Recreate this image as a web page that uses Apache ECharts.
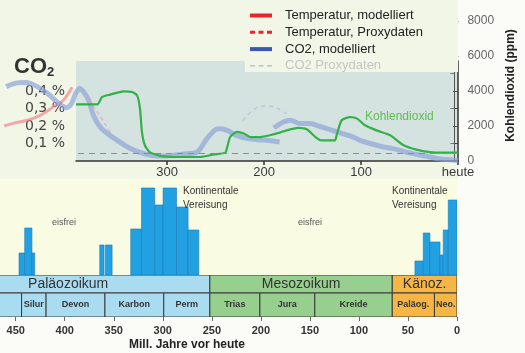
<!DOCTYPE html>
<html><head><meta charset="utf-8">
<script src="https://cdn.jsdelivr.net/npm/echarts@6/dist/echarts.min.js"></script>
<style>html,body{margin:0;padding:0;background:#fbfbf7}#c{width:525px;height:353px}</style>
</head><body><div id="c"></div>
<script>
// ---- Top panel: CO2 (ppm) over million years before present ----
const kohlendioxid = [[394,3240],[372,3240],[367,3660],[359,3790],[345,3980],[336,3940],[331,3750],[328,3000],[326,1660],[323,900],[318,510],[307,290],[290,230],[266,230],[252,370],[240,480],[238,800],[235,1370],[228,1660],[221,1570],[214,1370],[204,1370],[194,1470],[184,1620],[180,1700],[165,1890],[156,1810],[147,1370],[141,1180],[127,1180],[125,1510],[120,2330],[111,2510],[104,2420],[96,2040],[84,1750],[70,1470],[56,900],[43,650],[29,510],[15,480],[0,480]];
const co2ModelA = [[466,4250],[456,4450],[446,4480],[434,4250],[422,3800],[412,3300],[404,3050],[399,3250],[394,3900],[390,4150],[386,3940],[381,3470],[376,2610],[369,1940],[359,1470],[348,1050],[338,710],[324,420],[311,290],[295,320],[280,420],[269,510],[259,1280],[250,1800],[245,1850],[238,1750],[228,1450],[214,1250],[200,1200],[184,1090]];
const co2ModelB = [[190,1900],[180,2230],[173,2330],[163,2140],[153,2140],[146,2040],[135,1850],[125,1660],[108,1370],[101,1180],[84,900],[77,800],[67,710],[49,450],[32,270],[22,140],[15,100],[0,30]];
const co2Proxy = [[222,2300],[214,2800],[205,3100],[195,3150],[186,3000],[177,2700]];
const tempModel = [[468,2000],[459,2150],[444,2330],[431,2610],[418,3070],[407,3470],[398,4210]];
const tempProxy = [[381,3500],[372,2800],[364,2100],[357,1500]];
const todayLevel = [420];
const topTicks = [0,100,200,300];
const percentTicks = [1000,2000,3000,4000];
const ppmTicks = [0,2000,4000,6000,8000];

// ---- Bottom panel: glaciation extent, eras and periods ----
const iceStart  = [446.6,440.8,433.4,364.3,358.5,332.7,321.7,308.2,299.7,286.0,274.2,42.9,34.4,27.6,17.3,14.0,8.9];
const iceEnd    = [440.8,433.4,430.6,359.9,351.7,321.7,308.2,299.7,286.0,274.2,263.3,34.4,27.6,17.3,14.0,8.9,0];
const iceExtent = [22,47,22,30,30,46,87,70,87,68,45,14,42,33,20,45,75];
const eraNames = ['Paläozoikum','Mesozoikum','Känoz.'];
const eraStart = [541,252,66];
const eraEnd   = [252,66,0];
const periodNames = ['','Silur','Devon','Karbon','Perm','Trias','Jura','Kreide','Paläog.','Neo.'];
const periodStart = [485,444,419,359,299,252,201,145,66,23];
const periodEnd   = [444,419,359,299,252,201,145,66,23,0];
const periodEra   = [0,0,0,0,0,1,1,1,2,2];

const FONT = '"Liberation Sans", Arial, sans-serif';
const eraColors = ['#a9dcf0','#96cf8e','#f6b545'];

const PX_PER_1000 = 17.5;
const mainMax = 100 / PX_PER_1000 * 1000;
const rightMax = 151 / PX_PER_1000 * 1000;
const TOP_MAX = 394;                 // left edge of the CO2 plot (Mill. Jahre)
const topScale = 382 / TOP_MAX;      // px per Mill. Jahre in the top panel
const wideMax = 458 / topScale;      // same scale extended to the left picture edge

const bands = [];
eraNames.forEach((n,i)=>bands.push({name:n, value:[eraStart[i], eraEnd[i], 1, i], era:i, big:true}));
periodNames.forEach((n,i)=>bands.push({name:n, value:[periodStart[i], periodEnd[i], 0, i], era:periodEra[i], big:false}));
const iceData = iceStart.map((s,i)=>[s, iceEnd[i], iceExtent[i]]);

const solidIcon = 'path://M0,0h22v4h-22z';
const dashIcon = 'path://M0,0h5v3h-5zM8.5,0h5v3h-5zM17,0h5v3h-5z';
const thinDashIcon = 'path://M0,0h5v1.4h-5zM8.5,0h5v1.4h-5zM17,0h5v1.4h-5z';

const chart = echarts.init(document.getElementById('c'), null, {renderer:'canvas'});
chart.setOption({
  backgroundColor:'#fbfbf7',
  animation:false,
  textStyle:{fontFamily:FONT},
  grid:[
    {left:76, right:67, top:61, bottom:192, show:true, backgroundColor:'#d4e3df', borderWidth:0},
    {left:76, right:67, top:10, bottom:192},
    {left:0, right:68, top:179, bottom:78, show:true, backgroundColor:'#fafbe3', borderWidth:0},
    {left:0, right:68, top:275, bottom:36},
    {left:0, right:67, top:61, bottom:192}
  ],
  legend:{
    orient:'vertical', left:245, top:0, padding:[9,0,0,5],
    itemWidth:22, itemHeight:14, itemGap:3.8,
    textStyle:{fontSize:13, color:'#222', fontFamily:FONT, padding:[0,0,0,8]},
    data:[
      {name:'Temperatur, modelliert', icon:solidIcon, itemStyle:{color:'#e8262a'}},
      {name:'Temperatur, Proxydaten', icon:dashIcon, itemStyle:{color:'#e8262a'}},
      {name:'CO2, modelliert', icon:solidIcon, itemStyle:{color:'#3b57b2'}},
      {name:'CO2 Proxydaten', icon:thinDashIcon, itemStyle:{color:'#aab6d8'}, textStyle:{color:'#c4c6c4'}}
    ]
  },
  xAxis:[
    {gridIndex:0, type:'value', min:0, max:TOP_MAX, inverse:true, interval:100,
     axisLine:{show:true, lineStyle:{color:'#333', width:1.5}},
     axisTick:{show:true, length:4, lineStyle:{color:'#333', width:1.5}, customValues:topTicks},
     axisLabel:{fontSize:13, color:'#3a3a3a', margin:5, customValues:topTicks, formatter:v=>v===0?'heute':String(v)},
     splitLine:{show:false}},
    {gridIndex:1, type:'value', min:0, max:TOP_MAX, inverse:true, show:false},
    {gridIndex:2, type:'value', min:0, max:466, inverse:true, show:false},
    {gridIndex:3, type:'value', min:0, max:466, inverse:true, interval:50,
     axisLine:{show:false},
     axisTick:{show:true, length:4, lineStyle:{color:'#666'}},
     axisLabel:{fontSize:11, fontWeight:'bold', color:'#333', margin:8, formatter:v=>String(v)},
     splitLine:{show:false}},
    {gridIndex:4, type:'value', min:0, max:wideMax, inverse:true, show:false}
  ],
  yAxis:[
    {gridIndex:0, type:'value', min:0, max:mainMax, position:'left',
     axisLine:{show:true, lineStyle:{color:'#333', width:1.5}},
     axisTick:{show:true, length:5, customValues:percentTicks, lineStyle:{color:'#444'}},
     axisLabel:{fontSize:14, color:'#444', margin:11, customValues:percentTicks, fontFamily:'"DejaVu Sans", sans-serif',
       formatter:v=>(v/10000).toFixed(1).replace('.',',')+' %'},
     splitLine:{show:false}},
    {gridIndex:1, type:'value', min:0, max:rightMax, position:'right',
     axisLine:{show:true, lineStyle:{color:'#555', width:1}},
     axisTick:{show:true, length:4, customValues:ppmTicks, lineStyle:{color:'#555'}},
     axisLabel:{fontSize:12, color:'#666', margin:13, customValues:ppmTicks, formatter:v=>String(v)},
     splitLine:{show:false},
     name:'Kohlendioxid (ppm)', nameLocation:'middle', nameRotate:90, nameGap:49,
     nameTextStyle:{fontSize:12, fontWeight:'bold', color:'#222'}},
    {gridIndex:1, type:'value', min:0, max:rightMax, position:'right',
     axisLine:{show:false},
     axisTick:{show:true, inside:true, length:4, customValues:[1000,3000,5000,7000], lineStyle:{color:'#777'}},
     axisLabel:{show:false}, splitLine:{show:false}},
    {gridIndex:2, type:'value', min:0, max:96, show:false},
    {gridIndex:3, type:'value', min:0, max:42, show:false},
    {gridIndex:4, type:'value', min:0, max:mainMax, show:false}
  ],
  series:[
    {name:'Temperatur, modelliert', type:'line', xAxisIndex:4, yAxisIndex:5, data:tempModel,
     symbol:'none', smooth:0.3, z:1, lineStyle:{color:'#ee7f86', width:3, opacity:0.65}},
    {name:'CO2, modelliert', type:'line', xAxisIndex:4, yAxisIndex:5, data:co2ModelA,
     symbol:'none', smooth:0.3, z:2, lineStyle:{color:'#8ea4d8', width:5, opacity:0.7}},
    {name:'CO2, modelliert', type:'line', xAxisIndex:4, yAxisIndex:5, data:co2ModelB,
     symbol:'none', smooth:0.3, z:2, lineStyle:{color:'#8ea4d8', width:5, opacity:0.7}},
    {name:'CO2 Proxydaten', type:'line', xAxisIndex:4, yAxisIndex:5, data:co2Proxy,
     symbol:'none', smooth:0.3, z:2, lineStyle:{color:'#b4bedc', width:1.5, type:[4,4], opacity:0.8}},
    {name:'Temperatur, Proxydaten', type:'line', xAxisIndex:4, yAxisIndex:5, data:tempProxy,
     symbol:'none', smooth:0.3, z:2, lineStyle:{color:'#f0a0a4', width:1.5, type:[4,3], opacity:0.7}},
    {name:'Kohlendioxid', type:'line', xAxisIndex:0, yAxisIndex:0, data:kohlendioxid,
     symbol:'none', smooth:0.2, z:3, lineStyle:{color:'#34b048', width:2.2},
     markLine:{silent:true, symbol:'none', label:{show:false},
       lineStyle:{color:'#4cba4c', type:[6,5], width:1},
       data:todayLevel.map(v=>({yAxis:v}))}},
    {name:'Vereisung', type:'custom', xAxisIndex:2, yAxisIndex:3, data:iceData, clip:true,
     renderItem:function(params, api){
       const p0 = api.coord([api.value(0), api.value(2)]);
       const p1 = api.coord([api.value(1), 0]);
       return {type:'rect', shape:{x:p0[0], y:p0[1], width:p1[0]-p0[0], height:p1[1]-p0[1]},
               style:{fill:'#22a1e2', stroke:'#1a78bb', lineWidth:0.6}};
     }},
    {name:'Zeitalter', type:'custom', xAxisIndex:3, yAxisIndex:4, data:bands, clip:true,
     renderItem:function(params, api){
       const b = bands[params.dataIndex];
       const row = api.value(2);
       const yLo = row === 1 ? 24 : 0, yHi = row === 1 ? 42 : 24;
       const p0 = api.coord([api.value(0), yHi]);
       const p1 = api.coord([api.value(1), yLo]);
       return {type:'group', children:[
         {type:'rect', shape:{x:p0[0], y:p0[1], width:p1[0]-p0[0], height:p1[1]-p0[1]},
          style:{fill:eraColors[b.era], stroke:'#3a3a3a', lineWidth:1}},
         {type:'text', x:(p0[0]+p1[0])/2, y:(p0[1]+p1[1])/2,
          style:{text:b.name, align:'center', verticalAlign:'middle',
                 font:(b.big?'normal 14px ':'bold 9px ')+FONT, fill:'#333'}}
       ]};
     }}
  ],
  graphic:[
    {type:'rect', z:-5, shape:{x:0, y:0, width:458, height:179}, style:{fill:'#f2f6e7'}},
    {type:'rect', z:1, shape:{x:245, y:0, width:213, height:72}, style:{fill:'#f2f6e7'}},
    {type:'text', z:5, x:14, y:54, style:{text:'{a|CO}{b|2}', rich:{a:{fontSize:22, fontWeight:'bold', fill:'#333', fontFamily:FONT}, b:{fontSize:13, fontWeight:'bold', fill:'#333', fontFamily:FONT, padding:[12,0,0,0]}}}},
    {type:'text', z:5, x:365, y:111, style:{text:'Kohlendioxid', font:'12px '+FONT, fill:'#5cc04c'}},
    {type:'text', z:5, x:64, y:223, style:{text:'eisfrei', font:'9px '+FONT, fill:'#555', align:'center', verticalAlign:'middle'}},
    {type:'text', z:5, x:310, y:223, style:{text:'eisfrei', font:'9px '+FONT, fill:'#555', align:'center', verticalAlign:'middle'}},
    {type:'text', z:5, x:183, y:184, style:{text:'Kontinentale\nVereisung', font:'10px '+FONT, fill:'#333', lineHeight:14}},
    {type:'text', z:5, x:392, y:184, style:{text:'Kontinentale\nVereisung', font:'10px '+FONT, fill:'#333', lineHeight:14}},
    {type:'text', z:5, x:187, y:345, style:{text:'Mill. Jahre vor heute', font:'bold 12px '+FONT, fill:'#222', align:'center', verticalAlign:'middle'}}
  ]
});
</script></body></html>
